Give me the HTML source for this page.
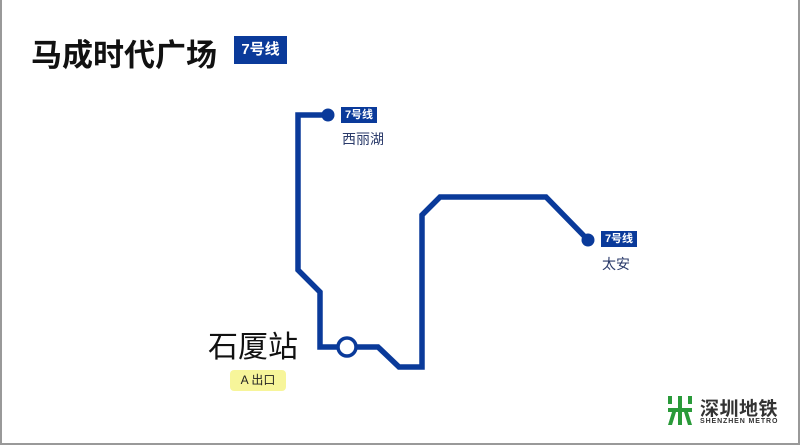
<!DOCTYPE html>
<html><head><meta charset="utf-8"><style>
body{margin:0;background:#fff}
#c{position:relative;width:800px;height:445px;overflow:hidden;background:#fff;font-family:"Liberation Sans","Noto Sans CJK SC",sans-serif}
.t{position:absolute;white-space:nowrap}
</style></head><body><div id="c">
<div style="position:absolute;left:0;top:0;width:2px;height:445px;background:#999"></div>
<div style="position:absolute;right:0;top:0;width:2px;height:445px;background:#999"></div>
<div style="position:absolute;left:0;bottom:0;width:800px;height:2px;background:#999"></div>
<div class="t" style="left:31px;top:30px;font-size:31px;font-weight:bold;color:#111">马成时代广场</div>
<div class="t" style="left:234px;top:36px;width:53px;height:28px;background:#0a3a9a;color:#fff;font-weight:bold;font-size:15px;line-height:28px;text-align:center">7号线</div>
<svg width="800" height="445" style="position:absolute;left:0;top:0">
<polyline points="328,115 298,115 298,270 320,292 320,347 378,347 399,367 422,367 422,215 440,197 546,197 588,240" fill="none" stroke="#0a3a9a" stroke-width="5.5" stroke-linejoin="miter"/>
<circle cx="328" cy="115" r="6.5" fill="#0a3a9a"/>
<circle cx="588" cy="240" r="6.5" fill="#0a3a9a"/>
<circle cx="347" cy="347" r="9" fill="#fff" stroke="#0a3a9a" stroke-width="3.5"/>
<g fill="#2a9a3a"><rect x="668" y="396" width="4" height="8"/><rect x="688" y="396" width="4" height="8"/><rect x="678" y="396" width="4" height="29"/><rect x="668" y="408" width="24" height="4"/><path d="M672 412 L668 425 L672 425 L676 412Z M688 412 L692 425 L688 425 L684 412Z"/></g>
</svg>
<div class="t" style="left:341px;top:107px;width:36px;height:16px;background:#0a3a9a;color:#fff;font-weight:bold;font-size:11px;line-height:16px;text-align:center">7号线</div>
<div class="t" style="left:342px;top:129px;font-size:14px;color:#2a3a6a">西丽湖</div>
<div class="t" style="left:601px;top:231px;width:36px;height:16px;background:#0a3a9a;color:#fff;font-weight:bold;font-size:11px;line-height:16px;text-align:center">7号线</div>
<div class="t" style="left:602px;top:254px;font-size:14px;color:#2a3a6a">太安</div>
<div class="t" style="left:208px;top:322px;font-size:30px;color:#111">石厦站</div>
<div class="t" style="left:230px;top:370px;width:56px;height:21px;background:#f7f59a;border-radius:4px;font-size:12px;line-height:21px;text-align:center;color:#222">A 出口</div>
<div class="t" style="left:700px;top:394px;font-size:19px;font-weight:bold;color:#333;letter-spacing:0.5px">深圳地铁</div>
<div class="t" style="left:700px;top:418px;font-size:7px;font-weight:bold;color:#333;letter-spacing:0.9px">SHENZHEN METRO</div>
</div></body></html>
